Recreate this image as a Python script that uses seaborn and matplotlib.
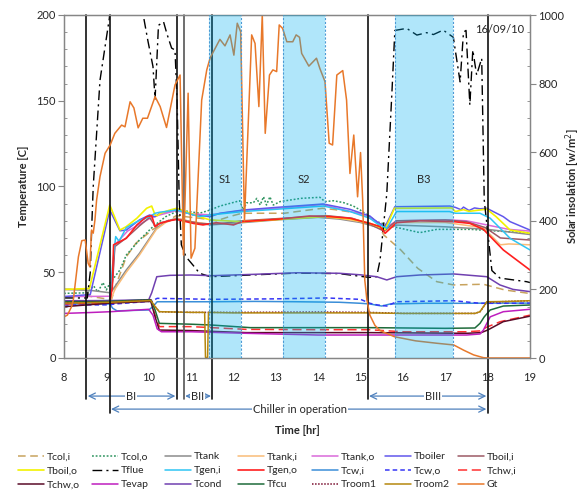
import matplotlib
matplotlib.use("Agg")
import matplotlib.pyplot as plt
from matplotlib.ticker import MultipleLocator
from matplotlib.lines import Line2D
import seaborn as sns

sns.set_style("white")
plt.rcParams["font.family"] = ["Lato", "DejaVu Sans"]

# ---------------- data: (hour, value) pairs ----------------
TCOL_I = [(8,40),(8.5,40),(8.6,36),(9.12,34),(9.22,42),(9.47,59),(9.7,67),(10.1,75),(10.65,83),(11.2,81.5),(11.6,80),(11.9,82.4),(12.2,84.4),(13.2,84.4),(13.5,85.4),(14.1,87.3),(14.4,86.5),(14.95,84.4),(15.35,80.5),(15.55,71.7),(15.95,63),(16.35,52.3),(16.8,44.5),(17.2,42.6),(17.9,43),(18.4,39.7),(19,37.6)]
TCOL_O = [(8,37.7),(8.55,38),(8.7,42),(8.8,38.5),(8.92,44),(9.0,39.7),(9.08,43.5),(9.32,51.3),(9.47,60),(9.78,68.8),(10.1,76.6),(10.4,82.4),(10.65,85.4),(10.9,85.6),(11.2,84.4),(11.45,86.3),(11.68,88.6),(12.15,91.7),(12.23,86.3),(12.31,90.5),(12.47,90.5),(12.55,93.1),(12.63,89.2),(12.71,94.0),(12.78,89.2),(12.86,94.0),(12.94,89.2),(13.1,91.2),(13.6,93.1),(14.04,93.7),(14.16,91.2),(14.36,91.7),(14.6,90.6),(14.83,88.6),(14.99,86.3),(15.22,82.4),(15.38,79.5),(15.77,76.6),(16.4,73.1),(16.8,75),(17.6,75),(18.5,73.6),(19,73)]
TTANK = [(8,40),(8.6,39.5),(9.1,38),(9.2,41.6),(9.47,51.3),(9.78,61),(10.02,69.8),(10.18,75.6),(10.4,79.5),(10.65,81.5),(11.0,79.5),(11.45,77.6),(12.0,78.5),(13.0,80.5),(14.0,82),(14.5,81),(15.0,79),(15.5,75.5),(15.6,75),(15.85,77.5),(17.0,76.5),(18.0,75),(18.5,73.5),(19,72)]
TTANK_I = [(8,33),(8.6,33),(9.1,33.5),(9.2,40),(9.47,50),(9.78,60),(10.02,69),(10.18,75),(10.4,79),(10.65,81.5),(11.0,79.5),(11.45,78),(12.0,79),(13.0,80.8),(14.0,82.5),(14.5,81.5),(15.0,79.5),(15.5,76),(15.6,74),(15.85,79),(17.0,79),(17.9,76),(18.3,66),(18.5,66.5),(19,66)]
TTANK_O = [(8,35.8),(9.08,36),(9.15,48),(9.2,66),(9.5,74),(10.0,81),(10.2,83),(10.65,86),(11.0,84),(11.45,83.5),(12.2,86),(13.2,87.5),(14.1,89.5),(14.5,87),(15.0,84),(15.35,80),(15.6,76),(15.85,80),(17.1,80.5),(17.5,80),(18.0,77.5),(18.5,75),(19,74)]
TBOILER = [(8,35.8),(8.62,37),(9.08,86.3),(9.32,74.2),(9.47,74.6),(9.78,80.5),(10.02,83.4),(10.15,82.4),(10.26,84.4),(10.65,86.7),(11.05,83.4),(11.45,82.4),(11.68,84.4),(12.23,86.3),(13.0,87.8),(14.12,89.8),(14.75,86.7),(15.22,82.8),(15.38,79.5),(15.58,76.6),(15.81,88.2),(17.11,88.6),(17.24,87.8),(17.37,86.5),(17.43,88),(17.56,86),(17.69,87.5),(17.82,87),(17.98,87.3),(18.37,82.4),(18.53,79.5),(19,74.6)]
TBOIL_I = [(8,32),(9.08,33),(9.15,45),(9.2,65),(9.47,70),(9.78,77),(10.02,82),(10.15,77),(10.3,79),(10.65,81),(11.2,78.5),(11.6,78),(12.2,80),(13.2,81.5),(14.2,83),(14.8,81.5),(15.22,78),(15.55,74),(15.85,80),(17.0,80.5),(17.5,79.5),(17.95,76),(18.3,70),(19,68.8)]
TBOIL_O = [(8,40),(8.6,40.5),(9.08,89.2),(9.32,74.6),(9.47,76.6),(9.72,81.5),(9.95,87.3),(10.07,88.6),(10.15,83.4),(10.2,83),(10.28,84.4),(10.5,86.3),(10.66,87.3),(11.2,82.4),(11.45,80.5),(12.2,79.5),(13.2,81),(14.2,82.5),(14.8,81),(15.22,78.5),(15.38,77),(15.58,75),(15.8,87.3),(17.15,87.5),(17.24,85.4),(17.43,86.5),(17.56,85.5),(17.98,86.8),(18.2,82.4),(18.53,74.6),(19,72.7)]
TFLUE = [(8,35),(8.55,35),(8.62,50),(8.66,80),(8.69,100),(8.85,162),(9.07,198),(9.12,215),(9.83,215),(9.87,200),(9.98,185),(10.1,170),(10.15,151),(10.23,194),(10.35,196),(10.43,189),(10.54,180.7),(10.62,179.6),(10.67,150),(10.72,92),(10.77,66),(10.88,59),(11.05,54),(11.2,49.4),(11.45,47.4),(12.5,48.5),(13.5,49.5),(14.5,49.2),(15.2,47),(15.38,47.4),(15.46,57),(15.62,96),(15.74,154.5),(15.81,191),(16.09,192.2),(16.33,188.3),(16.56,189.7),(16.72,188.6),(16.95,191.2),(17.19,187),(17.35,161),(17.43,190),(17.49,191),(17.58,147.5),(17.65,179.6),(17.74,165),(17.86,174.7),(17.92,92),(18.1,51),(18.29,46.6),(18.92,44.5),(19,44)]
TGEN_I = [(8,33),(9.08,33.5),(9.15,55),(9.22,70.8),(9.3,68),(9.47,76),(9.72,79.5),(10.02,82.4),(10.15,84.4),(10.26,85),(10.66,86.3),(11.2,82.4),(11.45,83.4),(12.23,85.4),(13.0,86.7),(14.12,88.6),(14.75,85.4),(15.22,81.5),(15.38,78.5),(15.62,75.6),(15.85,85.4),(17.1,85.4),(17.24,84.4),(17.82,84.4),(18.06,81.5),(18.53,69.8),(19,63)]
TGEN_O = [(8,32),(9.08,32.5),(9.14,41),(9.17,66),(9.47,69.8),(9.72,77.6),(9.95,82.4),(10.07,83),(10.15,76.6),(10.26,78.5),(10.5,80.1),(10.66,80.8),(11.05,78.5),(11.28,77.6),(11.6,78.9),(12.0,77.6),(12.2,79.5),(13.0,80.8),(13.8,82.8),(14.3,82.4),(14.75,81.5),(15.22,78.5),(15.46,76.6),(15.58,72.7),(15.85,78.9),(16.4,80),(17.2,79.5),(17.58,78.5),(17.9,75),(18.37,63),(19,51.3)]
TCW_I = [(8,31.5),(9.08,31.5),(9.15,29),(9.25,27.5),(10.0,28),(10.1,30),(10.2,32.8),(11.5,32.8),(12.5,33),(13.5,32.8),(14.5,32.5),(15.0,31.9),(15.22,31.5),(15.5,30.3),(15.7,31.5),(16.5,31.9),(17.5,31.9),(18.0,32),(19,32)]
TCW_O = [(8,30.9),(9.08,31),(9.2,31.5),(10.0,33),(10.1,33.5),(10.2,34.8),(11.5,34.2),(13.0,34.5),(14.2,35),(15.0,34.2),(15.22,31.9),(15.4,30.9),(15.62,30.3),(15.85,32.8),(17.2,33.4),(17.82,31.9),(18.5,31.9),(19,32)]
TCHW_I = [(8,31.5),(9.08,32),(10.05,33.5),(10.15,25),(10.25,18.3),(11.0,18.3),(12.3,16.7),(14.0,16.5),(15.2,16.5),(16.0,15.3),(17.5,15.3),(17.82,15.8),(17.98,18),(18.3,21.2),(19,25)]
TCHW_O = [(8,29.9),(9.08,32),(10.05,33),(10.15,24),(10.25,16.3),(11.0,16),(12.3,14.8),(14.0,14.8),(15.2,14.8),(17.5,14.4),(17.85,14.8),(18.0,16.3),(18.37,21.2),(19,24.4)]
TEVAP = [(8,26),(8.6,26.5),(9.1,27),(10.0,28.4),(10.1,25),(10.2,17),(10.3,15.3),(11.0,15.3),(12.3,14.4),(14.0,13.4),(15.2,13.4),(17.5,13.4),(17.82,14),(17.9,16.3),(18.06,24),(18.37,27),(19,28.4)]
TCOND = [(8,33.4),(9.1,33.5),(10.0,34),(10.07,38),(10.19,47.4),(10.5,48.2),(11.0,48.4),(11.5,48),(12.5,48.8),(13.5,49.7),(14.5,49.4),(15.0,48.5),(15.38,47.4),(15.62,45.5),(15.85,47.4),(16.4,48.4),(17.2,49),(17.98,47.4),(18.29,42.6),(18.6,40),(19,38.7)]
TFCU = [(8,32.8),(9.08,33),(10.05,34),(10.15,28),(10.25,20.2),(11.0,19.7),(11.5,19.2),(12.4,17.7),(14.0,17.7),(15.2,17.7),(17.0,17.3),(17.7,17.5),(17.82,20.2),(17.92,24),(18.06,28),(18.37,30.3),(19,30.9)]
TROOM1 = [(8,32.3),(9.08,32.5),(10.05,33.8),(10.15,30),(10.25,27),(11.0,26.6),(12.0,26.6),(14.0,26.8),(15.2,26.6),(16.0,26),(17.7,26),(17.82,27),(17.98,32.5),(18.5,33),(19,33.4)]
TROOM2 = [(8,32),(9.08,32.5),(10.05,33.5),(10.15,30),(10.25,27),(11.0,26.6),(11.32,26.6),(11.34,0.3),(11.39,0.3),(11.41,26.6),(12.0,26.3),(14.0,26.3),(15.2,26.3),(16.0,26),(17.7,26),(17.82,27),(17.98,32.8),(18.5,33),(19,33.4)]
GT = [(8.0,120),(8.08,125),(8.18,150),(8.22,169),(8.34,295),(8.42,342),(8.5,344),(8.57,276),(8.61,266),(8.65,373),(8.69,364),(8.73,402),(8.77,461),(8.85,529),(8.97,597),(9.09,621),(9.2,655),(9.36,679),(9.44,674),(9.56,747),(9.65,729),(9.75,671),(9.86,699),(9.97,699),(10.15,762),(10.27,733),(10.42,672),(10.62,796),(10.74,825),(10.82,300),(10.93,772),(11.0,291),(11.09,320),(11.25,752),(11.37,840),(11.45,875),(11.68,929),(11.8,910),(11.92,942),(12.01,883),(12.09,976),(12.17,951),(12.26,400),(12.43,942),(12.51,917),(12.6,733),(12.68,1000),(12.75,655),(12.85,825),(12.93,840),(13.02,835),(13.08,971),(13.16,961),(13.26,922),(13.4,922),(13.48,942),(13.56,935),(13.61,888),(13.78,851),(13.96,874),(14.04,844),(14.16,806),(14.26,626),(14.34,621),(14.44,825),(14.58,838),(14.67,752),(14.75,538),(14.84,650),(14.93,470),(15.0,599),(15.05,461),(15.1,227),(15.15,169),(15.22,125),(15.34,95),(15.46,80),(15.8,62),(16.3,50),(16.8,43),(17.2,38),(17.43,23),(17.67,9),(17.9,1),(18.0,0),(19.0,0)]

SERIES_NAMES = ["Tcol,i","Tcol,o","Ttank","Ttank,i","Ttank,o","Tboiler","Tboil,i",
                "Tboil,o","Tflue","Tgen,i","Tgen,o","Tcw,i","Tcw,o","Tchw,i",
                "Tchw,o","Tevap","Tcond","Tfcu","Troom1","Troom2","Gt"]
SERIES_DATA = [TCOL_I,TCOL_O,TTANK,TTANK_I,TTANK_O,TBOILER,TBOIL_I,TBOIL_O,TFLUE,
               TGEN_I,TGEN_O,TCW_I,TCW_O,TCHW_I,TCHW_O,TEVAP,TCOND,TFCU,TROOM1,TROOM2,GT]

PERIODS = [("S1", 11.42, 12.17), ("S2", 13.16, 14.17), ("B3", 15.82, 17.18)]
BOUNDARIES = [8.52, 9.08, 10.67, 10.83, 11.5, 15.17, 18.0]
X_TICKS = list(range(8, 20))

# ---------------- styles ----------------
STYLES = {
    "Tcol,i": ("#C8A35E", (0, (5, 3)), 1.1),
    "Tcol,o": ("#2F9460", (0, (1.2, 1.2)), 1.1),
    "Ttank": ("#8C8C8C", "-", 1.1),
    "Ttank,i": ("#F9BC78", "-", 1.1),
    "Ttank,o": ("#DA6ADA", "-", 1.1),
    "Tboiler": ("#6257EC", "-", 1.1),
    "Tboil,i": ("#9C5A66", "-", 1.1),
    "Tboil,o": ("#F2F200", "-", 1.2),
    "Tflue": ("#000000", (0, (7, 3, 1.5, 3)), 1.0),
    "Tgen,i": ("#2EC5F4", "-", 1.1),
    "Tgen,o": ("#FF1F1F", "-", 1.2),
    "Tcw,i": ("#3A8ED8", "-", 1.1),
    "Tcw,o": ("#3535F5", (0, (3, 2)), 1.1),
    "Tchw,i": ("#FF3030", (0, (6, 3)), 1.1),
    "Tchw,o": ("#5A0B28", "-", 1.1),
    "Tevap": ("#BE1EBE", "-", 1.1),
    "Tcond": ("#7040B0", "-", 1.1),
    "Tfcu": ("#1E6B3A", "-", 1.1),
    "Troom1": ("#7A1030", (0, (1, 1)), 1.1),
    "Troom2": ("#B5870E", "-", 1.1),
    "Gt": ("#E8782A", "-", 1.1),
}

fig = plt.figure(figsize=(5.85, 5.03), dpi=100)
ax = fig.add_axes([64/585, 1-358/503, 466/585, 343/503])
ax2 = ax.twinx()

handles = []
for name, pts in zip(SERIES_NAMES, SERIES_DATA):
    col, ls, lw = STYLES[name]
    xs = [p[0] for p in pts]
    ys = [p[1] for p in pts]
    target = ax2 if name == "Gt" else ax
    sns.lineplot(x=xs, y=ys, ax=target, color=col, linestyle=ls, linewidth=lw,
                 estimator=None, sort=False, legend=False, zorder=2)
    handles.append(Line2D([], [], color=col, linestyle=ls, linewidth=lw))

ax.set_xlim(8, 19)
ax.set_ylim(0, 200)
ax2.set_ylim(0, 1000)

# shaded periods (drawn over the lines, semi-transparent)
for lab, a, b in PERIODS:
    ax2.axvspan(a, b, color="#00B0F0", alpha=0.31, lw=0, zorder=3)
    for xe in (a, b):
        ax2.axvline(xe, color="#4C9AD4", lw=0.8, linestyle=(0, (2, 1.5)), zorder=3)
    ax2.text((a + b) / 2, 104 * 5, lab, ha="center", va="center", fontsize=8, zorder=6)

ax2.text(18.29, 191.5 * 5, "16/09/10", ha="center", va="center", fontsize=8, zorder=6)

# boundary lines
trans = ax.get_xaxis_transform()
for xb in BOUNDARIES:
    ybot = -0.16 if xb in (9.08, 18.0) else -0.12
    col = "#555555" if xb in (10.83,) else "#111111"
    ax.plot([xb, xb], [1, ybot], transform=trans, color=col, lw=1.2,
            clip_on=False, zorder=4)

# arrows below axis
arrow_col = "#4F81BD"
def span_arrow(x1, x2, y, text, xt):
    ax.annotate("", xy=(x2, y), xytext=(x1, y), xycoords=trans, textcoords=trans,
                arrowprops=dict(arrowstyle="<->,head_length=0.45,head_width=0.22",
                                color=arrow_col, lw=0.9, shrinkA=0, shrinkB=0),
                annotation_clip=False)
    ax.text(xt, y, text, transform=trans, ha="center", va="center", fontsize=8,
            bbox=dict(facecolor="white", edgecolor="none", pad=1.0), clip_on=False)

span_arrow(8.56, 10.63, -0.111, "BI", 9.58)
span_arrow(10.86, 11.47, -0.111, "BII", 11.15)
span_arrow(15.2, 17.97, -0.111, "BIII", 16.71)
span_arrow(9.11, 17.97, -0.149, "Chiller in operation", 13.57)

# axes cosmetics
spine_col = "#868686"
for a in (ax, ax2):
    for s in a.spines.values():
        s.set_color(spine_col)
        s.set_linewidth(0.9)
ax.set_xticks(X_TICKS)
ax.xaxis.set_minor_locator(MultipleLocator(1/12))
ax.yaxis.set_major_locator(MultipleLocator(50))
ax.yaxis.set_minor_locator(MultipleLocator(10))
ax2.yaxis.set_major_locator(MultipleLocator(200))
ax2.yaxis.set_minor_locator(MultipleLocator(50))
ax.tick_params(axis="both", which="major", direction="out", length=4, color=spine_col,
               labelsize=8, pad=2)
ax.tick_params(axis="both", which="minor", direction="in", length=2.5, color=spine_col)
ax2.tick_params(axis="y", which="major", direction="out", length=4, color=spine_col,
                labelsize=8, pad=2)
ax2.tick_params(axis="y", which="minor", direction="in", length=2.5, color=spine_col)
ax.tick_params(axis="x", pad=6)

ax.set_xlabel("Time [hr]", fontsize=8, fontweight="bold")
ax.xaxis.set_label_coords(0.5, -0.195)
ax.set_ylabel("Temperature [C]", fontsize=8, fontweight="bold")
ax.yaxis.set_label_coords(-0.075, 0.5)
ax2.set_ylabel("Solar insolation [w/m$^2$]", fontsize=8, fontweight="bold")
ax2.yaxis.set_label_coords(1.072, 0.5)

# legend: 7 columns x 3 rows, filled row-wise
col_x = [18, 92, 165, 238, 312, 385, 458]
for c in range(7):
    idx = [r * 7 + c for r in range(3)]
    fig.legend([handles[i] for i in idx], [SERIES_NAMES[i] for i in idx],
               loc="upper left", bbox_to_anchor=(col_x[c] / 585, 1 - 452 / 503),
               frameon=False, fontsize=7.5, handlelength=2.5, handletextpad=0.25,
               labelspacing=0.45, borderpad=0, borderaxespad=0)

fig.savefig("out.png", dpi=100)
